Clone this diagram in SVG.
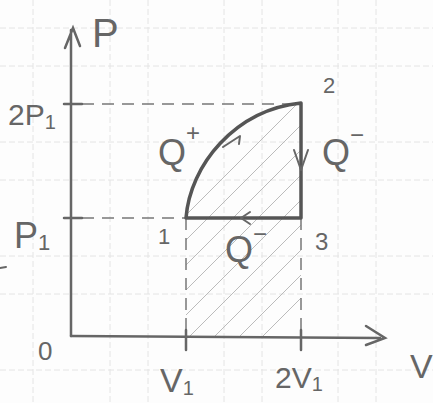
<svg xmlns="http://www.w3.org/2000/svg" width="433" height="403" viewBox="0 0 433 403">
<defs>
<style>
.grid{stroke:#e4e4e4;stroke-width:1;stroke-dasharray:6 3}
.axis{stroke:#666;stroke-width:2.5;fill:none;stroke-linecap:round}
.cyc{stroke:#555;stroke-width:3.5;fill:none;stroke-linecap:round;stroke-linejoin:round}
.dash{stroke:#777;stroke-width:1.5;stroke-dasharray:12 8;fill:none}
.hatch{stroke:#bbb;stroke-width:1}
.arr{stroke:#666;stroke-width:2;fill:none;stroke-linecap:round;stroke-linejoin:round}
text{font-family:"Liberation Sans",Arial,sans-serif;fill:#666}
</style>
<clipPath id="area"><path d="M186,218 C190,165 235,110 301,103 L301,336 L186,336 Z"/></clipPath>
</defs>
<rect width="433" height="403" fill="#fdfdfd"/>
<g id="grid">
<line class="grid" x1="0" y1="28" x2="433" y2="28"/>
<line class="grid" x1="0" y1="66" x2="433" y2="66"/>
<line class="grid" x1="0" y1="142" x2="433" y2="142"/>
<line class="grid" x1="0" y1="180" x2="433" y2="180"/>
<line class="grid" x1="0" y1="256" x2="433" y2="256"/>
<line class="grid" x1="0" y1="294" x2="433" y2="294"/>
<line class="grid" x1="0" y1="370" x2="433" y2="370"/>
<line class="grid" x1="33" y1="0" x2="33" y2="403"/>
<line class="grid" x1="110" y1="0" x2="110" y2="403"/>
<line class="grid" x1="148" y1="0" x2="148" y2="403"/>
<line class="grid" x1="224" y1="0" x2="224" y2="403"/>
<line class="grid" x1="262" y1="0" x2="262" y2="403"/>
<line class="grid" x1="338" y1="0" x2="338" y2="403"/>
<line class="grid" x1="376" y1="0" x2="376" y2="403"/>
</g>
<g id="hatching" clip-path="url(#area)">
<line class="hatch" x1="190" y1="336" x2="430" y2="96"/>
<line class="hatch" x1="215" y1="336" x2="455" y2="96"/>
<line class="hatch" x1="240" y1="336" x2="480" y2="96"/>
<line class="hatch" x1="263" y1="336" x2="503" y2="96"/>
<line class="hatch" x1="165" y1="336" x2="405" y2="96"/>
<line class="hatch" x1="140" y1="336" x2="380" y2="96"/>
<line class="hatch" x1="115" y1="336" x2="355" y2="96"/>
<line class="hatch" x1="90" y1="336" x2="330" y2="96"/>
<line class="hatch" x1="65" y1="336" x2="305" y2="96"/>
</g>
<g id="connectors">
<line class="dash" x1="82" y1="104" x2="301" y2="104"/>
<line class="dash" x1="82" y1="218" x2="186" y2="218"/>
<line class="dash" x1="186" y1="218" x2="186" y2="336"/>
<line class="dash" x1="301" y1="218" x2="301" y2="336"/>
<path class="axis" d="M71,336 L71,30 M65,48 L73,28 L80,46"/>
<path class="axis" d="M71,336 L380,338 M366,326 L385,338 L366,345"/>
<path class="axis" d="M64,104 L82,104 M64,218 L82,218 M186,330 L186,350 M301,330 L301,350"/>
<path class="cyc" d="M186,218 C190,165 235,110 301,103 L301,218 Z"/>
<path class="arr" d="M223,147 L240,136 L239,144"/>
<path class="arr" d="M294,150 L301,170 L308,150"/>
<path class="arr" d="M250,212 L241,218 L250,224"/>
<line class="arr" x1="0" y1="268" x2="6" y2="267"/>
</g>
<g id="labels">
<text x="92" y="47" font-size="40">P</text>
<text x="8" y="125" font-size="30">2P<tspan font-size="20" dy="4">1</tspan></text>
<text x="14" y="248" font-size="36">P<tspan font-size="22" dy="2">1</tspan></text>
<text x="38" y="360" font-size="26">0</text>
<text x="410" y="378" font-size="34">V</text>
<text x="160" y="392" font-size="34">V<tspan font-size="20" dy="3">1</tspan></text>
<text x="275" y="388" font-size="30">2V<tspan font-size="20" dy="3">1</tspan></text>
<text x="158" y="244" font-size="22">1</text>
<text x="323" y="93" font-size="22">2</text>
<text x="315" y="250" font-size="24">3</text>
<text x="158" y="165" font-size="36">Q<tspan font-size="24" dy="-24">+</tspan></text>
<text x="322" y="165" font-size="36">Q<tspan font-size="24" dy="-22">−</tspan></text>
<text x="225" y="262" font-size="36">Q<tspan font-size="24" dy="-20">−</tspan></text>
</g>
</svg>
